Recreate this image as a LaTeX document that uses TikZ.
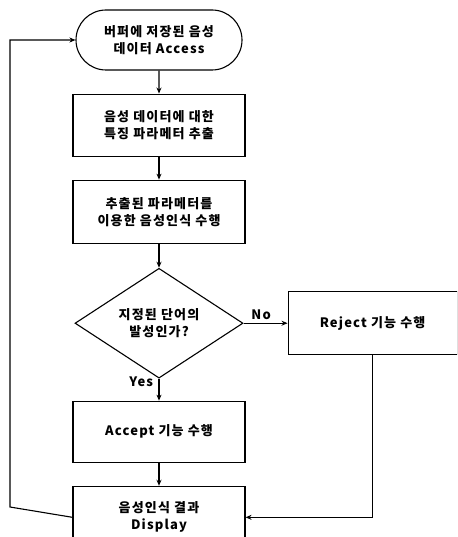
\documentclass[tikz,border=0pt]{standalone}
\usepackage{fontspec}
\setmainfont{Noto Sans CJK KR}[LetterSpace=9]
\usetikzlibrary{positioning}
\usetikzlibrary{shapes.geometric,shapes.misc}
\usetikzlibrary{arrows.meta}

\begin{document}
\begin{tikzpicture}[x=1pt,y=1pt,
  font=\fontsize{13}{17}\selectfont\bfseries,
  every node/.style={align=center,line width=1.1pt},
  box/.style={draw,rectangle,minimum width=172pt,minimum height=62pt,inner sep=2pt},
  term/.style={draw,rounded rectangle,minimum width=170pt,minimum height=60pt,inner sep=2pt},
  ask/.style={draw,diamond,minimum width=168pt,minimum height=105pt,inner sep=0pt},
  flow/.style={line width=1.1pt,-{Stealth[length=6pt,width=5pt]}}]
\useasboundingbox (0,0) rectangle (457,-537);
\clip (0,0) rectangle (457,-537);

\node[term] (start) at (159,-40) {버퍼에 저장된 음성\\데이터 Access};
\node[box,below=23pt of start] (feat) {음성 데이터에 대한\\특징 파라메터 추출};
\node[box,below=23pt of feat,minimum height=63pt] (reco) {추출된 파라메터를\\이용한 음성인식 수행};
\node[ask,below=24pt of reco] (dec) {지정된 단어의\\발성인가?};
\node[box,right=44pt of dec,minimum width=169pt,minimum height=63pt] (rej) {Reject 기능 수행};
\node[box,below=22pt of dec,minimum height=61pt] (acc) {Accept 기능 수행};
\node[box,below=23pt of acc] (disp) {음성인식 결과\\Display};

\path[flow]
  (start) edge (feat)
  (feat) edge (reco)
  (reco) edge (dec)
  (dec) edge node[above,pos=0.4] {No} (rej)
  (dec) edge node[left,pos=0.15,xshift=-2pt] {Yes} (acc)
  (acc) edge (disp);
\draw[flow] (rej.south) |- (disp.east);
\draw[flow] (disp.west) -- (10,-507) |- (start.west);
\end{tikzpicture}
\end{document}
